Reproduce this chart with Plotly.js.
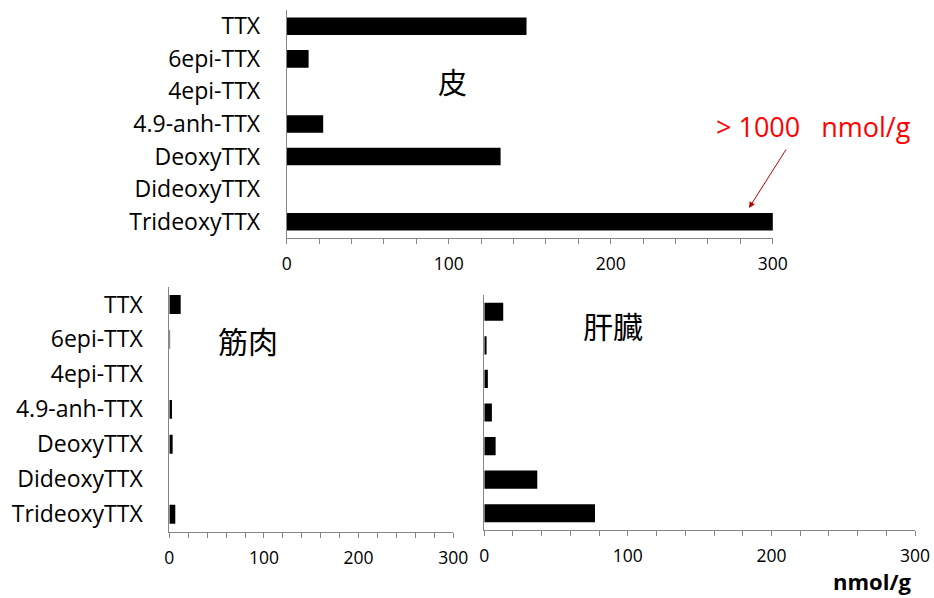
<!DOCTYPE html>
<html>
<head>
<meta charset="utf-8">
<script src="https://cdn.plot.ly/plotly-3.0.1.min.js"></script>
<style>html,body{margin:0;padding:0;background:#fff;}#chart{width:934px;height:598px;}</style>
</head>
<body>
<div id="chart"></div>
<script>
const categories = ["TTX", "6epi-TTX", "4epi-TTX", "4.9-anh-TTX", "DeoxyTTX", "DideoxyTTX", "TrideoxyTTX"];
const skinValues = [148, 13.5, 0, 22.5, 132, 0, 1000];
const muscleValues = [12, 0.8, 0, 2.8, 3.5, 0, 6.3];
const liverValues = [13.2, 1.6, 2.5, 5.3, 7.9, 36.9, 77.1];
const tickVals = [0, 100, 200, 300];
const tickText = ["0", "100", "200", "300"];

const FONT = "Open Sans, Noto Sans, sans-serif";
const CJK = "Noto Sans CJK JP, sans-serif";

function bar(vals, xa, ya) {
  return {
    type: 'bar', orientation: 'h', x: vals, y: categories,
    xaxis: xa, yaxis: ya, width: 0.54,
    marker: {color: '#000', line: {width: 0}},
    hoverinfo: 'skip', showlegend: false
  };
}

function xax(domain, anchor) {
  return {
    domain: domain, anchor: anchor, range: [0, 300], fixedrange: true,
    tickvals: tickVals, ticktext: tickText, ticks: 'outside', ticklen: 5,
    tickcolor: '#868686', showline: true, linecolor: '#868686', linewidth: 1,
    showgrid: false, zeroline: false, ticklabelstandoff: 5,
    minor: {dtick: 20, tick0: 0, ticks: 'outside', ticklen: 5, tickcolor: '#868686', showgrid: false},
    tickfont: {family: FONT, size: 17.5, color: '#000'}
  };
}
function yax(domain, anchor, show) {
  return {
    domain: domain, anchor: anchor, type: 'category', autorange: 'reversed',
    showline: true, linecolor: '#868686', linewidth: 1, ticks: '',
    showgrid: false, zeroline: false, showticklabels: show,
    ticklabelstandoff: 21,
    tickfont: {family: FONT, size: 23, color: '#000'}
  };
}

const data = [
  bar(skinValues, 'x', 'y'),
  bar(muscleValues, 'x2', 'y2'),
  bar(liverValues, 'x3', 'y3')
];

const layout = {
  width: 934, height: 598,
  margin: {l: 0, r: 0, t: 0, b: 0},
  paper_bgcolor: '#fff', plot_bgcolor: '#fff',
  bargap: 0.46,
  xaxis: xax([0.307, 0.8274], 'y'),
  yaxis: yax([0.602, 0.9833], 'x', true),
  xaxis2: xax([0.1813, 0.4853], 'y2'),
  yaxis2: yax([0.1109, 0.5201], 'x2', true),
  xaxis3: xax([0.5185, 0.9797], 'y3'),
  yaxis3: yax([0.1137, 0.5067], 'x3', false),
  annotations: [
    {xref: 'paper', yref: 'paper', x: 452/934, y: 1 - 81/598, text: '皮', showarrow: false,
     font: {family: CJK, size: 29, color: '#000'}, xanchor: 'center', yanchor: 'middle'},
    {xref: 'paper', yref: 'paper', x: 248/934, y: 1 - 340/598, text: '筋肉', showarrow: false,
     font: {family: CJK, size: 30, color: '#000'}, xanchor: 'center', yanchor: 'middle'},
    {xref: 'paper', yref: 'paper', x: 613/934, y: 1 - 325/598, text: '肝臓', showarrow: false,
     font: {family: CJK, size: 30, color: '#000'}, xanchor: 'center', yanchor: 'middle'},
    {xref: 'paper', yref: 'paper', x: 813/934, y: 1 - 127/598, text: '&gt; 1000&nbsp;&nbsp;&nbsp;nmol/g', showarrow: false,
     font: {family: FONT, size: 27, color: '#ff0000'}, xanchor: 'center', yanchor: 'middle'},
    {xref: 'paper', yref: 'paper', x: 749/934, y: 1 - 208/598, ax: 787/934, ay: 1 - 148/598,
     axref: 'paper', ayref: 'paper', text: '', showarrow: true, arrowhead: 2, arrowsize: 1.2,
     arrowwidth: 1, arrowcolor: '#c00000'},
    {xref: 'paper', yref: 'paper', x: 872/934, y: 1 - 581/598, text: '<b>nmol/g</b>', showarrow: false,
     font: {family: FONT, size: 22, color: '#000'}, xanchor: 'center', yanchor: 'middle'}
  ]
};

Plotly.newPlot('chart', data, layout, {staticPlot: true, displayModeBar: false});
</script>
</body>
</html>
